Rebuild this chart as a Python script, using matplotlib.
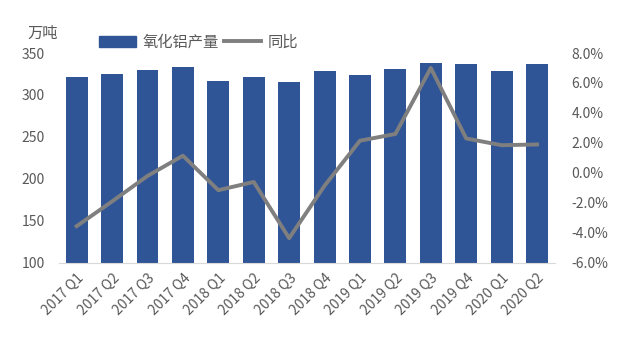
import matplotlib.pyplot as plt
import numpy as np
from matplotlib.lines import Line2D
from matplotlib.patches import Patch

plt.rcParams['font.family'] = ['Noto Sans CJK SC', 'DejaVu Sans']

quarters = ["2017 Q1", "2017 Q2", "2017 Q3", "2017 Q4",
            "2018 Q1", "2018 Q2", "2018 Q3", "2018 Q4",
            "2019 Q1", "2019 Q2", "2019 Q3", "2019 Q4",
            "2020 Q1", "2020 Q2"]
output = [321, 325, 330, 333, 317, 322, 316, 329, 324, 331, 338, 337, 329, 337]
yoy = [-3.55, -1.9, -0.2, 1.15, -1.15, -0.6, -4.35, -0.85,
       2.15, 2.6, 7.0, 2.3, 1.85, 1.9]

bar_color = "#2f5597"
line_color = "#7f7f7f"
text_color = "#595959"

fig = plt.figure(figsize=(6.34, 3.51), dpi=100)
ax = fig.add_axes([0.093, 0.251, 0.782, 0.598])
x = np.arange(len(quarters))

ax.bar(x, output, width=0.62, color=bar_color, zorder=2)
ax.set_ylim(100, 350)
ax.set_yticks([100, 150, 200, 250, 300, 350])
ax.set_xlim(-0.5, len(quarters) - 0.5)
ax.set_xticks(x)
ax.set_xticklabels(quarters, rotation=45, ha="right", rotation_mode="anchor")

ax2 = ax.twinx()
ax2.plot(x, yoy, color=line_color, linewidth=2.8, zorder=3)
ax2.set_ylim(-6, 8)
ax2.set_yticks(np.arange(-6, 8.1, 2))
ax2.set_yticklabels([f"{v:.1f}%" for v in np.arange(-6, 8.1, 2)])

for a in (ax, ax2):
    for s in a.spines.values():
        s.set_visible(False)
    a.tick_params(length=0, colors=text_color, labelsize=10)
ax.spines["bottom"].set_visible(True)
ax.spines["bottom"].set_color("#d9d9d9")
ax.tick_params(axis="y", pad=10)
ax.tick_params(axis="x", pad=6)
ax2.tick_params(axis="y", pad=12)

fig.text(0.043, 0.905, "万吨", fontsize=11, color=text_color, va="center")

handles = [Patch(color=bar_color), Line2D([0], [0], color=line_color, linewidth=2.8)]
fig.legend(handles, ["氧化铝产量", "同比"], loc="center left",
           bbox_to_anchor=(0.135, 0.88), ncol=2, frameon=False,
           fontsize=11, labelcolor=text_color, handlelength=2.4,
           handletextpad=0.4, columnspacing=0.4)

fig.savefig("out.png", dpi=100)
